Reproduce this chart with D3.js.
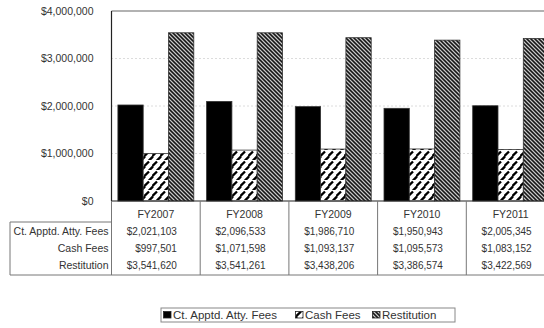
<!DOCTYPE html>
<html>
<head>
<meta charset="utf-8">
<script src="https://cdn.jsdelivr.net/npm/d3@7"></script>
<style>
  html, body { margin: 0; padding: 0; background: #fff; }
  svg { display: block; font-family: "Liberation Sans", Arial, sans-serif; }
</style>
</head>
<body>
<svg id="chart" width="544" height="328"></svg>
<script>
// Fiscal years shown along the category axis
const years = ["FY2007", "FY2008", "FY2009", "FY2010", "FY2011"];
// Series names (legend / table row labels)
const seriesNames = ["Ct. Apptd. Atty. Fees", "Cash Fees", "Restitution"];
// Values per series, one entry per fiscal year
const courtFees = [2021103, 2096533, 1986710, 1950943, 2005345];
const cashFees = [997501, 1071598, 1093137, 1095573, 1083152];
const restitution = [3541620, 3541261, 3438206, 3386574, 3422569];
// Value axis ticks
const yTicks = [0, 1000000, 2000000, 3000000, 4000000];

const seriesValues = [courtFees, cashFees, restitution];
const fills = ["#000", "url(#patCash)", "url(#patRest)"];
const textColor = "#333";

const svg = d3.select("#chart");
svg.append("rect").attr("width", 544).attr("height", 328).attr("fill", "#fff");

// Fill patterns for the hatched bars
const defs = svg.append("defs");
const pc = defs.append("pattern").attr("id", "patCash")
  .attr("patternUnits", "userSpaceOnUse").attr("width", 8).attr("height", 10);
pc.append("rect").attr("width", 8).attr("height", 10).attr("fill", "#fff");
pc.append("path").attr("d", "M0.5,6L5,1.5M4.5,11L9,6.5M-3.5,11L1,6.5")
  .attr("stroke", "#000").attr("stroke-width", 2.3).attr("fill", "none");

const pr = defs.append("pattern").attr("id", "patRest")
  .attr("patternUnits", "userSpaceOnUse").attr("width", 4).attr("height", 4);
pr.append("rect").attr("width", 4).attr("height", 4).attr("fill", "#7a7a7a");
pr.append("path").attr("d", "M-1,-1L5,5M-1,3L1,5M3,-1L5,1")
  .attr("stroke", "#111").attr("stroke-width", 1.2).attr("fill", "none");
pr.append("path").attr("d", "M1,-1L5,3M-1,1L3,5")
  .attr("stroke", "#e8e8e8").attr("stroke-width", 0.7).attr("fill", "none");

// Scales
const plotLeft = 111.5, plotTop = 11, plotBottom = 201;
const x = d3.scaleBand().domain(years).range([plotLeft, plotLeft + 88.7 * years.length])
  .paddingInner(0).paddingOuter(0);
const xs = d3.scaleBand().domain(d3.range(seriesNames.length)).range([0, x.bandwidth()])
  .paddingInner(0).paddingOuter(0.253);
const y = d3.scaleLinear().domain([0, 4000000]).range([plotBottom, plotTop]);
const plotRight = x.range()[1];

// Gridlines
svg.append("g").selectAll("line").data(yTicks.filter(t => t > 0 && t < 4000000)).join("line")
  .attr("x1", plotLeft).attr("x2", plotRight)
  .attr("y1", d => y(d)).attr("y2", d => y(d))
  .attr("stroke", "#b8b8b8").attr("stroke-width", 1).attr("stroke-dasharray", "1,3");
// Plot frame top
svg.append("line").attr("x1", plotLeft).attr("x2", plotRight)
  .attr("y1", y(4000000)).attr("y2", y(4000000))
  .attr("stroke", "#999").attr("stroke-width", 1.6);

// Bars
const groups = svg.append("g").selectAll("g").data(seriesValues).join("g");
groups.selectAll("rect").data((vals, si) => vals.map((v, i) => ({ v, i, si }))).join("rect")
  .attr("x", d => x(years[d.i]) + xs(d.si))
  .attr("width", xs.bandwidth())
  .attr("y", d => y(d.v))
  .attr("height", d => y(0) - y(d.v))
  .attr("fill", d => fills[d.si])
  .attr("stroke", "#333").attr("stroke-width", 0.8);

// Axes lines
svg.append("line").attr("x1", plotLeft).attr("x2", plotLeft).attr("y1", plotTop).attr("y2", plotBottom)
  .attr("stroke", "#222").attr("stroke-width", 1.2);
svg.append("line").attr("x1", plotLeft).attr("x2", plotRight).attr("y1", plotBottom).attr("y2", plotBottom)
  .attr("stroke", "#222").attr("stroke-width", 1.2);

// Value axis labels
const fmt = d3.format("$,.0f");
const yAxis = d3.axisLeft(y).tickValues(yTicks).tickFormat(fmt).tickSize(0).tickPadding(18);
const ya = svg.append("g").attr("transform", `translate(${plotLeft},0)`).call(yAxis);
ya.select(".domain").remove();
ya.selectAll("text").attr("font-size", 10.5).attr("fill", textColor)
  .attr("font-family", "Liberation Sans, Arial, sans-serif");

// Data table beneath the plot
const tableBottom = 275, labelTop = 222;
const tbl = svg.append("g");
const bounds = years.map(yr => x(yr)).concat([plotRight]);
tbl.selectAll("line.v").data(bounds).join("line").attr("class", "v")
  .attr("x1", d => d).attr("x2", d => d).attr("y1", plotBottom).attr("y2", tableBottom)
  .attr("stroke", "#777").attr("stroke-width", 1);
tbl.append("line").attr("x1", 10).attr("x2", plotRight).attr("y1", tableBottom).attr("y2", tableBottom)
  .attr("stroke", "#777");
tbl.append("line").attr("x1", 10).attr("x2", plotLeft).attr("y1", labelTop).attr("y2", labelTop)
  .attr("stroke", "#777");
tbl.append("line").attr("x1", 10).attr("x2", 10).attr("y1", labelTop).attr("y2", tableBottom)
  .attr("stroke", "#777");

tbl.selectAll("text.yr").data(years).join("text").attr("class", "yr")
  .attr("x", d => x(d) + x.bandwidth() / 2).attr("y", 218)
  .attr("text-anchor", "middle").attr("font-size", 10.5).attr("fill", textColor).text(d => d);

const rowY = [234.5, 251.5, 268.5];
tbl.selectAll("text.rl").data(seriesNames).join("text").attr("class", "rl")
  .attr("x", 108.5).attr("y", (d, i) => rowY[i])
  .attr("text-anchor", "end").attr("font-size", 10.5).attr("fill", textColor).text(d => d);

seriesValues.forEach((vals, si) => {
  tbl.append("g").selectAll("text").data(vals).join("text")
    .attr("x", (d, i) => x(years[i]) + x.bandwidth() / 2 + 21)
    .attr("y", rowY[si])
    .attr("text-anchor", "end").attr("font-size", 10).attr("fill", textColor)
    .text(d => fmt(d));
});

// Legend
const leg = svg.append("g");
leg.append("rect").attr("x", 161).attr("y", 308).attr("width", 294).attr("height", 14)
  .attr("fill", "#fff").attr("stroke", "#888").attr("stroke-width", 1);
const legStarts = [163.5, 295.5, 372.5];
seriesNames.forEach((name, i) => {
  leg.append("rect").attr("x", legStarts[i]).attr("y", 311.5).attr("width", 7.5).attr("height", 6.5)
    .attr("fill", fills[i]).attr("stroke", "#222").attr("stroke-width", 0.8);
  leg.append("text").attr("x", legStarts[i] + 9.5).attr("y", 319)
    .attr("font-size", 11.5).attr("fill", textColor).text(name);
});
</script>
</body>
</html>
